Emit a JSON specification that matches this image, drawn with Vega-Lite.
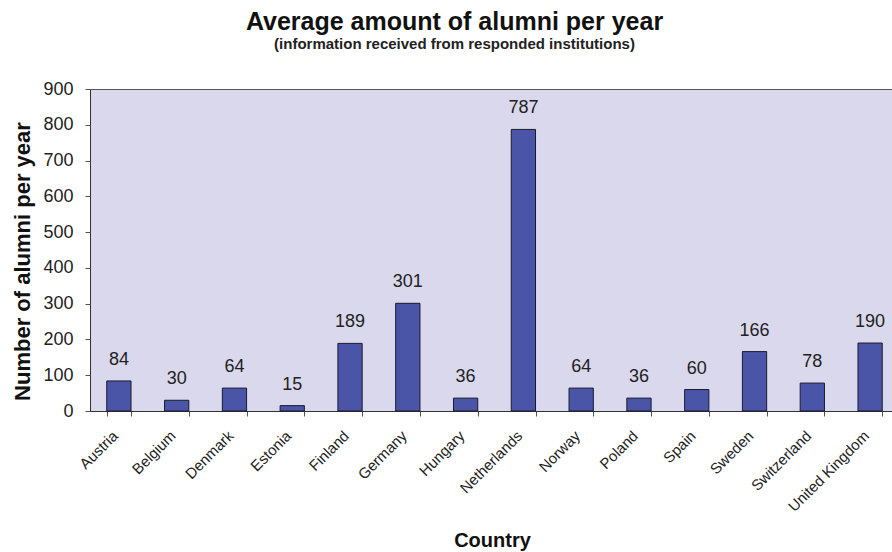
{
  "$schema": "https://vega.github.io/schema/vega-lite/v6.json",
  "autosize": "none",
  "width": 809,
  "height": 322,
  "padding": {"left": 90, "top": 89, "right": 0, "bottom": 141},
  "background": "white",
  "title": {
    "text": "Average amount of alumni per year",
    "subtitle": "(information received from responded institutions)",
    "anchor": "middle",
    "dx": -40,
    "offset": 28,
    "font": "Liberation Sans",
    "fontSize": 25,
    "fontWeight": "bold",
    "color": "#111111",
    "subtitleFont": "Liberation Sans",
    "subtitleFontSize": 15,
    "subtitleFontWeight": "bold",
    "subtitleColor": "#222222",
    "subtitlePadding": 2
  },
  "config": {
    "view": {"fill": "#dad8ec", "stroke": "#555555", "strokeWidth": 1},
    "font": "Liberation Sans"
  },
  "data": {
    "values": [
      {"country": "Austria", "alumni": 84},
      {"country": "Belgium", "alumni": 30},
      {"country": "Denmark", "alumni": 64},
      {"country": "Estonia", "alumni": 15},
      {"country": "Finland", "alumni": 189},
      {"country": "Germany", "alumni": 301},
      {"country": "Hungary", "alumni": 36},
      {"country": "Netherlands", "alumni": 787},
      {"country": "Norway", "alumni": 64},
      {"country": "Poland", "alumni": 36},
      {"country": "Spain", "alumni": 60},
      {"country": "Sweden", "alumni": 166},
      {"country": "Switzerland", "alumni": 78},
      {"country": "United Kingdom", "alumni": 190}
    ]
  },
  "encoding": {
    "x": {
      "field": "country",
      "type": "nominal",
      "sort": null,
      "scale": {"paddingInner": 0.58, "paddingOuter": 0.29},
      "axis": {
        "title": "Country",
        "titleFontSize": 20,
        "titleFontWeight": "bold",
        "titleColor": "#111111",
        "titlePadding": 16,
        "titleX": 402,
        "labelAngle": -45,
        "labelAlign": "right",
        "labelBaseline": "top",
        "labelFontSize": 15,
        "labelColor": "#222222",
        "labelPadding": 12,
        "labelOffset": -9,
        "tickBand": "extent",
        "ticks": true,
        "tickSize": 5,
        "tickColor": "#555555",
        "domainColor": "#333333",
        "grid": false
      }
    },
    "y": {
      "field": "alumni",
      "type": "quantitative",
      "scale": {"domain": [0, 900], "nice": false},
      "axis": {
        "title": "Number of alumni per year",
        "titleFontSize": 22,
        "titleFontWeight": "bold",
        "titleColor": "#111111",
        "titlePadding": 8,
        "titleY": 172,
        "values": [0, 100, 200, 300, 400, 500, 600, 700, 800, 900],
        "labelFontSize": 18,
        "labelColor": "#222222",
        "labelPadding": 12,
        "tickSize": 5,
        "tickColor": "#555555",
        "domainColor": "#333333",
        "grid": false
      }
    }
  },
  "layer": [
    {
      "mark": {"type": "bar", "fill": "#4a55a8", "stroke": "#1a1a2e", "strokeWidth": 1}
    },
    {
      "mark": {"type": "text", "dy": -12, "fontSize": 18, "color": "#222222", "baseline": "bottom"},
      "encoding": {"text": {"field": "alumni", "type": "quantitative"}}
    }
  ]
}
